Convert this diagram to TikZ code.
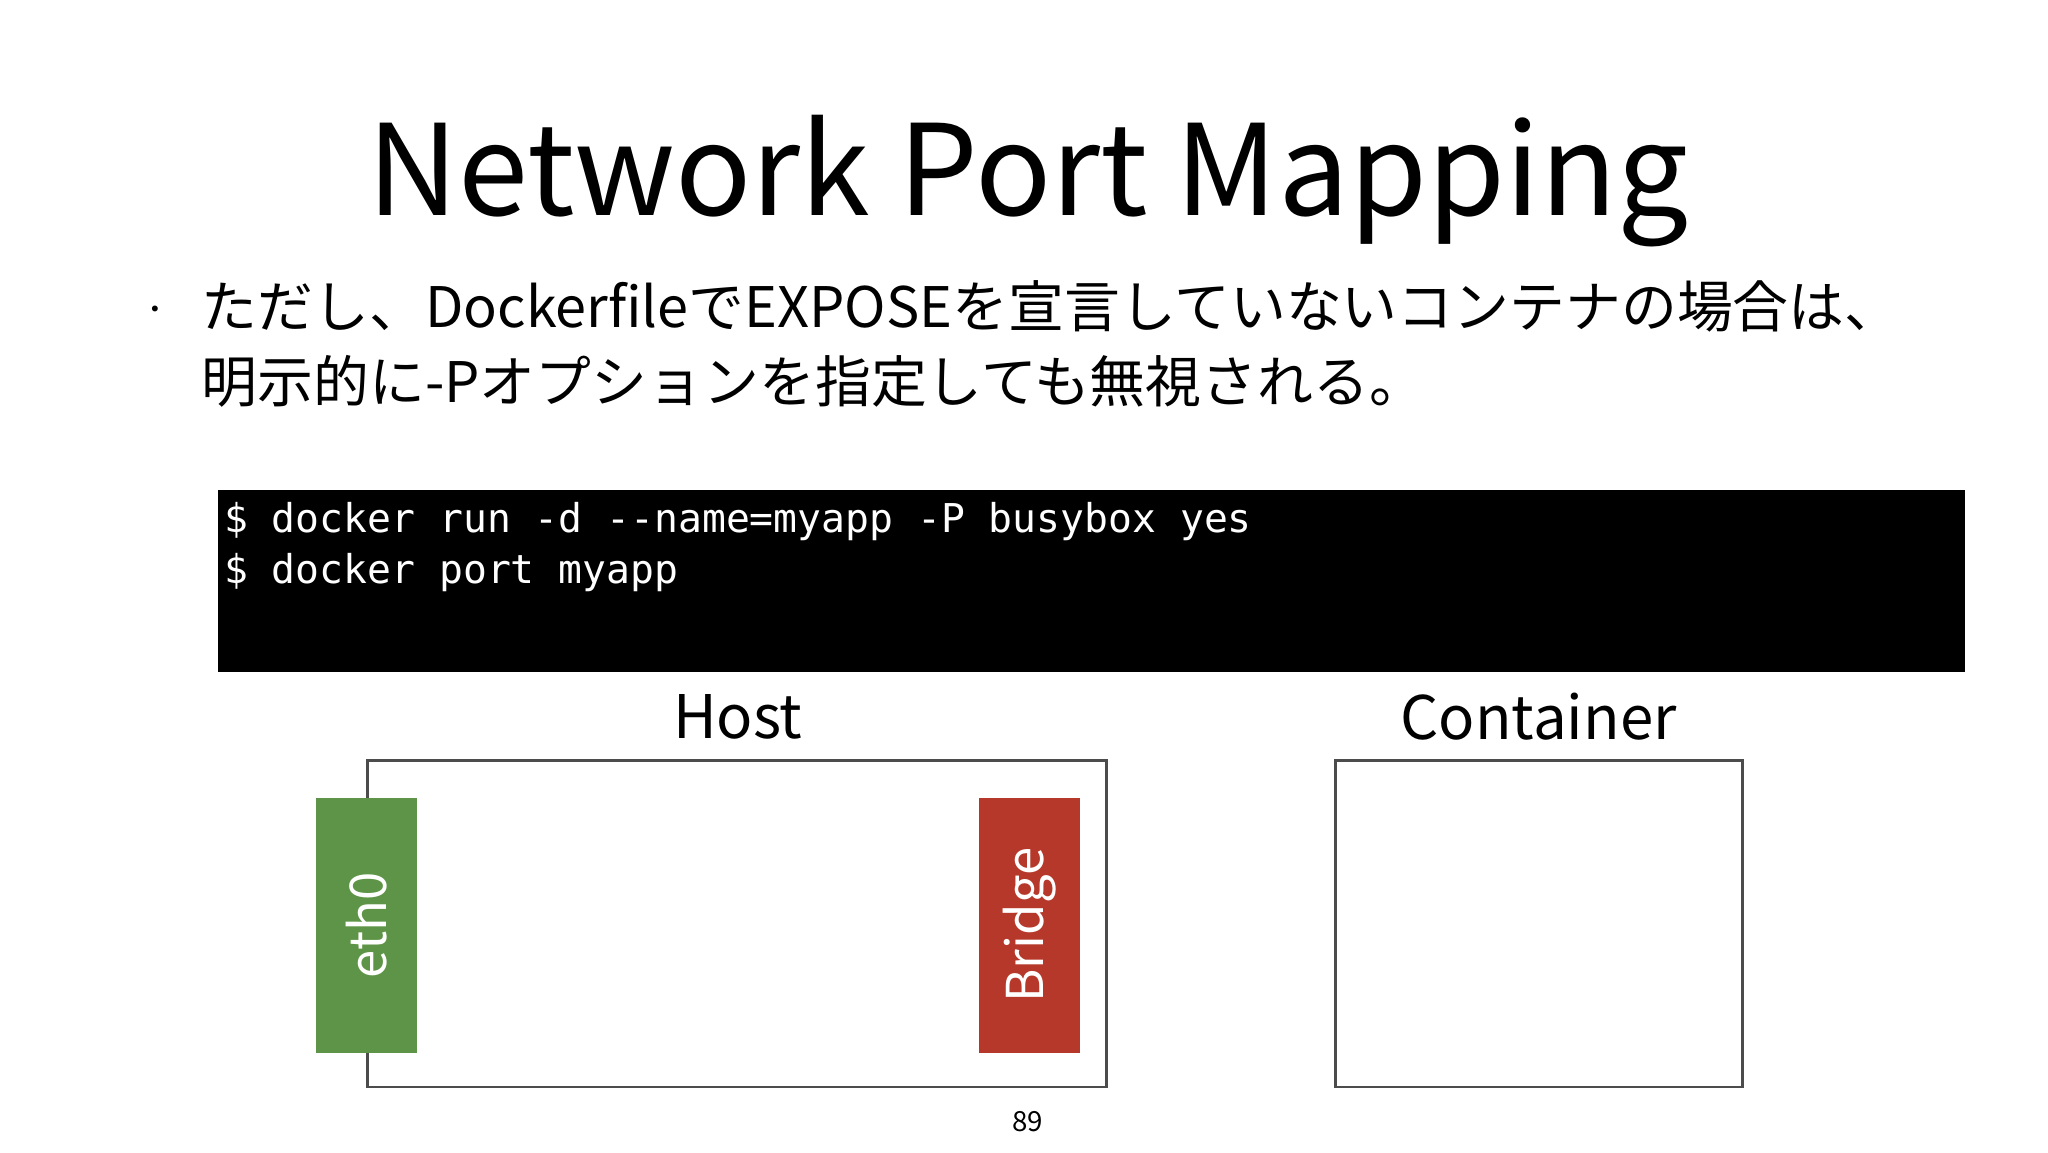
\documentclass[tikz,border=0pt]{standalone}
\usepackage{fontspec}
\setmainfont{Noto Sans CJK JP}
\newfontfamily\monof{DejaVu Sans Mono}
\definecolor{ethg}{HTML}{5E9447}
\definecolor{brr}{HTML}{B5382A}
\begin{document}
\begin{tikzpicture}[x=0.01cm,y=-0.01cm,
  box/.style={draw=black!70,line width=0.6pt},
  nic/.style={anchor=north west,minimum width=77*0.01cm,minimum height=194*0.01cm,inner sep=0pt,text=white,font=\fontsize{11}{13}\selectfont}]
\useasboundingbox (0,0) rectangle (1560,877.5);
\node (title) at (783,138) {\fontsize{27.3}{32}\selectfont Network Port Mapping};
\node (bul) at (118,238) {\fontsize{6}{7}\selectfont ・};
\node[anchor=west,align=left,inner sep=0pt,font=\fontsize{12.1}{16.2}\selectfont] (txt) at (153,262) {ただし、DockerfileでEXPOSEを宣言していないコンテナの場合は、\\明示的に-Pオプションを指定しても無視される。};
\fill (166,373) rectangle (1497,512);
\node[anchor=north west,align=left,text=white,inner sep=0pt,font=\monof\fontsize{8.6}{11.1}\selectfont] (term) at (170,382) {\$ docker run -d --name=myapp -P busybox yes\\\$ docker port myapp};
\node (hostl) at (562,546) {\fontsize{13}{16}\selectfont Host};
\node (contl) at (1172,546) {\fontsize{13}{16}\selectfont Container};
\draw[box] (280,579) rectangle (843,828);
\draw[box] (1017,579) rectangle (1327,828);
\node[nic,fill=ethg] (eth) at (240,607) {\rotatebox{90}{eth0}};
\node[nic,fill=brr] (br) at (745,607) {\rotatebox{90}{Bridge}};
\node (pg) at (783,854) {\fontsize{6}{7}\selectfont 89};
\end{tikzpicture}
\end{document}
